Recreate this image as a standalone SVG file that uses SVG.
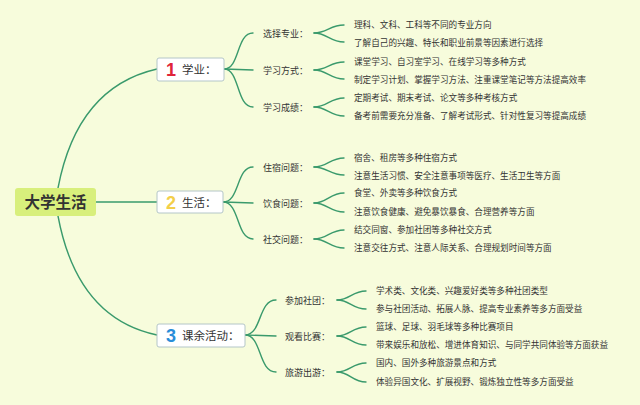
<svg xmlns="http://www.w3.org/2000/svg" width="640" height="405" viewBox="0 0 640 405">
<style>
.bg{fill:#f7fcdc}
.ln{fill:none;stroke:#3a9a6c;stroke-width:1.4;stroke-linecap:round}
.box{fill:#ffffff;stroke:#b4c6c8;stroke-width:1}
.t{font-family:"Noto Sans CJK SC","Noto Sans",sans-serif;fill:#333333}
.leaf{font-size:8.6px}
.sub{font-size:9px}
.br{font-size:11.5px}
.num{font-family:"Liberation Sans","Noto Sans",sans-serif;font-weight:bold;font-size:18px}
</style>
<rect class="bg" x="0" y="0" width="640" height="405"/>
<g id="connectors">
  <path class="ln" d="M58,188 C70,125 100,82 157,69"/>
  <path class="ln" d="M96,202 L157,202"/>
  <path class="ln" d="M58,216 C70,280 100,323 157,335"/>
  <path class="ln" d="M224,69 C240,69 236,33 253,33"/>
  <path class="ln" d="M224,69 L253,70"/>
  <path class="ln" d="M224,69 C240,69 236,107 253,107"/>
  <path class="ln" d="M223,202 C240,202 236,167 253,167"/>
  <path class="ln" d="M223,202 L253,203"/>
  <path class="ln" d="M223,202 C240,202 236,239 253,239"/>
  <path class="ln" d="M245,335 C262,335 258,300 276,300"/>
  <path class="ln" d="M245,335 L276,336"/>
  <path class="ln" d="M245,335 C262,335 258,372 276,372"/>
  <path class="ln" d="M314,33 C327,33 330,25 344,25"/>
  <path class="ln" d="M314,33 C327,33 330,42 344,42"/>
  <path class="ln" d="M314,70 C327,70 330,62 344,62"/>
  <path class="ln" d="M314,70 C327,70 330,79 344,79"/>
  <path class="ln" d="M314,107 C327,107 330,98 344,98"/>
  <path class="ln" d="M314,107 C327,107 330,116 344,116"/>
  <path class="ln" d="M314,167 C327,167 330,158 344,158"/>
  <path class="ln" d="M314,167 C327,167 330,175 344,175"/>
  <path class="ln" d="M314,203 C327,203 330,193 344,193"/>
  <path class="ln" d="M314,203 C327,203 330,212 344,212"/>
  <path class="ln" d="M314,239 C327,239 330,230 344,230"/>
  <path class="ln" d="M314,239 C327,239 330,248 344,248"/>
  <path class="ln" d="M337,300 C350,300 352,291 366,291"/>
  <path class="ln" d="M337,300 C350,300 352,309 366,309"/>
  <path class="ln" d="M337,336 C350,336 352,327 366,327"/>
  <path class="ln" d="M337,336 C350,336 352,345 366,345"/>
  <path class="ln" d="M337,372 C350,372 352,363 366,363"/>
  <path class="ln" d="M337,372 C350,372 352,382 366,382"/>
</g>
<g id="root">
  <rect x="15" y="188" width="81" height="28" rx="3" fill="#d8ef7c"/>
  <text class="t" x="55.5" y="207.5" text-anchor="middle" font-size="15.5" font-weight="bold" fill="#111">大学生活</text>
</g>
<g id="b1">
  <rect class="box" x="157" y="58" width="67" height="23" rx="2"/>
  <text class="num" x="166" y="76" fill="#e0243a">1</text>
  <text class="t br" x="182" y="74">学业：</text>
</g>
<g id="b2">
  <rect class="box" x="157" y="191" width="66" height="22" rx="2"/>
  <text class="num" x="166" y="209" fill="#f3cf4a">2</text>
  <text class="t br" x="182" y="207">生活：</text>
</g>
<g id="b3">
  <rect class="box" x="157" y="324" width="88" height="23" rx="2"/>
  <text class="num" x="166" y="342" fill="#2a8dd8">3</text>
  <text class="t br" x="182" y="340">课余活动：</text>
</g>
<g id="s11"><text class="t sub" x="263" y="36.5">选择专业：</text></g>
<g id="s12"><text class="t sub" x="263" y="73.5">学习方式：</text></g>
<g id="s13"><text class="t sub" x="263" y="110.5">学习成绩：</text></g>
<g id="s21"><text class="t sub" x="263" y="170.5">住宿问题：</text></g>
<g id="s22"><text class="t sub" x="263" y="206.5">饮食问题：</text></g>
<g id="s23"><text class="t sub" x="263" y="242.5">社交问题：</text></g>
<g id="s31"><text class="t sub" x="285" y="303.5">参加社团：</text></g>
<g id="s32"><text class="t sub" x="285" y="339.5">观看比赛：</text></g>
<g id="s33"><text class="t sub" x="285" y="375.5">旅游出游：</text></g>
<g id="leaves">
  <text class="t leaf" x="354" y="28">理科、文科、工科等不同的专业方向</text>
  <text class="t leaf" x="354" y="45.5">了解自己的兴趣、特长和职业前景等因素进行选择</text>
  <text class="t leaf" x="354" y="65">课堂学习、自习室学习、在线学习等多种方式</text>
  <text class="t leaf" x="354" y="82.5">制定学习计划、掌握学习方法、注重课堂笔记等方法提高效率</text>
  <text class="t leaf" x="354" y="101">定期考试、期末考试、论文等多种考核方式</text>
  <text class="t leaf" x="354" y="119">备考前需要充分准备、了解考试形式、针对性复习等提高成绩</text>
  <text class="t leaf" x="354" y="161">宿舍、租房等多种住宿方式</text>
  <text class="t leaf" x="354" y="178.5">注意生活习惯、安全注意事项等医疗、生活卫生等方面</text>
  <text class="t leaf" x="354" y="196">食堂、外卖等多种饮食方式</text>
  <text class="t leaf" x="354" y="215">注意饮食健康、避免暴饮暴食、合理营养等方面</text>
  <text class="t leaf" x="354" y="233">结交同窗、参加社团等多种社交方式</text>
  <text class="t leaf" x="354" y="251">注意交往方式、注意人际关系、合理规划时间等方面</text>
  <text class="t leaf" x="376" y="294">学术类、文化类、兴趣爱好类等多种社团类型</text>
  <text class="t leaf" x="376" y="312">参与社团活动、拓展人脉、提高专业素养等多方面受益</text>
  <text class="t leaf" x="376" y="330">篮球、足球、羽毛球等多种比赛项目</text>
  <text class="t leaf" x="376" y="348">带来娱乐和放松、增进体育知识、与同学共同体验等方面获益</text>
  <text class="t leaf" x="376" y="366">国内、国外多种旅游景点和方式</text>
  <text class="t leaf" x="376" y="385">体验异国文化、扩展视野、锻炼独立性等多方面受益</text>
</g>
</svg>
